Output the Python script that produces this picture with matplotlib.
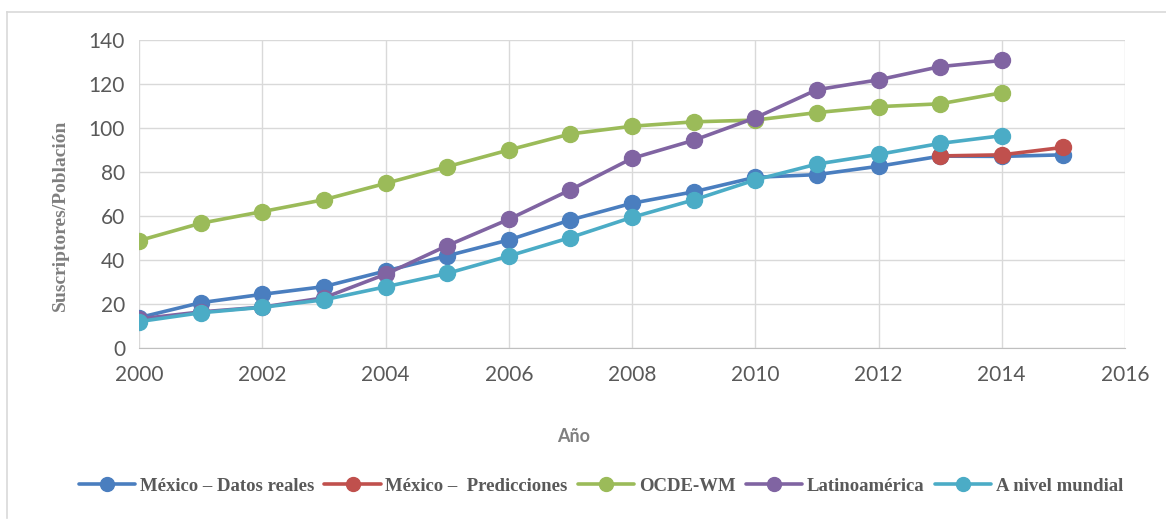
import numpy as np
import matplotlib.pyplot as plt
from matplotlib.lines import Line2D

# Suscriptores por cada 100 habitantes, 2000-2015
years = np.arange(2000, 2015)
mexico_real = [13.8, 20.6, 24.4, 27.9, 35.0, 41.9, 49.1, 58.2, 65.8, 71.0,
               77.6, 78.8, 82.6, 87.2, 87.1, 87.8]
years_real = np.arange(2000, 2016)
years_pred = [2013, 2014, 2015]
mexico_pred = [87.3, 87.8, 91.2]
ocde = [48.8, 56.7, 62.0, 67.4, 74.8, 82.4, 90.0, 97.3, 100.8, 102.8,
        103.6, 107.0, 109.7, 111.0, 116.0]
latam = [13.2, 16.4, 18.6, 22.8, 33.5, 46.5, 58.5, 71.9, 86.2, 94.4,
         104.6, 117.4, 121.9, 127.9, 130.7]
mundial = [12.0, 16.0, 18.5, 21.9, 27.8, 33.9, 41.8, 50.2, 59.4, 67.3,
           76.4, 83.6, 88.0, 93.0, 96.5]

labels = ['México – Datos reales', 'México –  Predicciones', 'OCDE-WM',
          'Latinoamérica', 'A nivel mundial']
colors = ['#4a7ebf', '#c0504d', '#9bbb59', '#8064a2', '#4bacc6']

plt.rcParams['font.family'] = ['Lato', 'DejaVu Sans']

W, H = 1166, 521
fig = plt.figure(figsize=(W / 100, H / 100), dpi=100)
ax = fig.add_axes([139 / W, 1 - 348 / H, (1125 - 139) / W, (348 - 40) / H])

style = dict(lw=2.6, marker='o', ms=11.5, solid_capstyle='round')
ax.plot(years_real, mexico_real, color=colors[0], label=labels[0], **style)
ax.plot(years_pred, mexico_pred, color=colors[1], label=labels[1], **style)
ax.plot(years, ocde, color=colors[2], label=labels[2], **style)
ax.plot(years, latam, color=colors[3], label=labels[3], **style)
ax.plot(years, mundial, color=colors[4], label=labels[4], **style)

ax.set_xlim(2000, 2016)
ax.set_ylim(0, 140)
ax.set_xticks(np.arange(2000, 2017, 2))
ax.set_yticks(np.arange(0, 141, 20))
ax.grid(True, color='#d9d9d9', lw=1)
ax.set_axisbelow(True)
for side in ['top', 'right', 'left']:
    ax.spines[side].set_visible(False)
ax.spines['bottom'].set_color('#bfbfbf')
ax.tick_params(length=0, labelsize=15, colors='#595959')
ax.tick_params(axis='x', pad=12)
ax.tick_params(axis='y', pad=10)

fig.text(60 / W, 1 - 215 / H, 'Suscriptores/Población', rotation=90,
         ha='center', va='center', family='Liberation Serif',
         fontweight='bold', fontsize=14, color='#7f7f7f')
fig.text(574 / W, 1 - 436 / H, 'Año', ha='center', va='center',
         fontsize=13, fontweight='bold', color='#7f7f7f')

leg = fig.legend(loc='center', bbox_to_anchor=(601 / W, 1 - 486 / H), ncol=5,
                 frameon=False, handlelength=3.0, columnspacing=0.55,
                 handletextpad=0.25,
                 prop={'family': 'Liberation Serif', 'weight': 'bold', 'size': 13.5})
for txt in leg.get_texts():
    txt.set_color('#595959')
for h in leg.legend_handles:
    h.set_markersize(10)

# light frame around the chart area
fig.add_artist(Line2D([7 / W, 7 / W], [0.005, 1 - 12 / H],
                      color='#d9d9d9', lw=1.2))
fig.add_artist(Line2D([7 / W, 1], [1 - 12 / H, 1 - 12 / H],
                      color='#d9d9d9', lw=1.2))

fig.savefig('out.png', dpi=100)
